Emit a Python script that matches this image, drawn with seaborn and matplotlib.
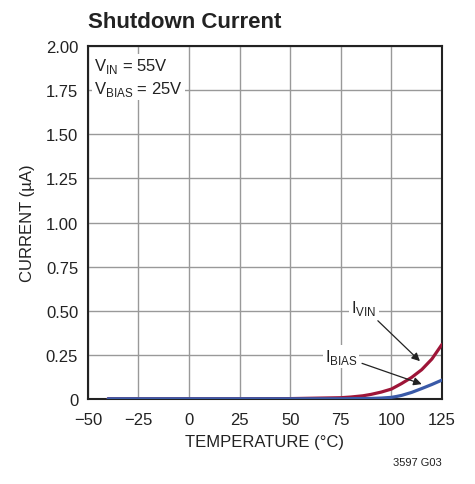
import numpy as np
import pandas as pd
import matplotlib
matplotlib.use('Agg')
import matplotlib.pyplot as plt
import seaborn as sns

# values
temp_vin = [-40, -25, 0, 25, 50, 75, 80, 86, 90, 95, 100, 105, 110, 115, 120, 125]
i_vin = [0.002, 0.002, 0.002, 0.002, 0.003, 0.008, 0.012, 0.019, 0.027, 0.04, 0.057, 0.088, 0.123, 0.167, 0.227, 0.31]
temp_bias = [-40, -25, 0, 25, 50, 75, 90, 95, 100, 102.5, 105, 110, 115, 120, 125]
i_bias = [0.002, 0.002, 0.002, 0.002, 0.002, 0.002, 0.004, 0.006, 0.01, 0.015, 0.021, 0.038, 0.06, 0.083, 0.108]

xticks = [-50, -25, 0, 25, 50, 75, 100, 125]
xticklabels = ['\u221250', '\u221225', '0', '25', '50', '75', '100', '125']
yticks = [0, 0.25, 0.5, 0.75, 1.0, 1.25, 1.5, 1.75, 2.0]
yticklabels = ['0', '0.25', '0.50', '0.75', '1.00', '1.25', '1.50', '1.75', '2.00']

red = '#9e1538'
blue = '#3a5aa8'
ink = '#222222'

sns.set_style('white')
plt.rcParams['font.family'] = ['Liberation Sans', 'DejaVu Sans']
plt.rcParams['mathtext.fontset'] = 'custom'
plt.rcParams['mathtext.rm'] = 'Liberation Sans'

fig = plt.figure(figsize=(4.75, 4.85), dpi=100)
ax = fig.add_axes([0.185, 0.175, 0.7455, 0.728])

df_vin = pd.DataFrame({'temp': temp_vin, 'cur': i_vin})
df_bias = pd.DataFrame({'temp': temp_bias, 'cur': i_bias})
sns.lineplot(data=df_vin, x='temp', y='cur', color=red, lw=2.3, ax=ax, zorder=3)
sns.lineplot(data=df_bias, x='temp', y='cur', color=blue, lw=2.3, ax=ax, zorder=4)

ax.set_xlim(-50, 125)
ax.set_ylim(0, 2.0)
ax.set_xticks(xticks)
ax.set_xticklabels(xticklabels, fontsize=12, color=ink)
ax.set_yticks(yticks)
ax.set_yticklabels(yticklabels, fontsize=12, color=ink)
ax.tick_params(axis='x', length=0, pad=9)
ax.tick_params(axis='y', length=0, pad=7)
ax.grid(True, color='#999999', lw=1)
for s in ax.spines.values():
    s.set_color(ink)
    s.set_linewidth(1.5)

ax.set_xlabel('TEMPERATURE (\u00b0C)', fontsize=12, labelpad=5, color=ink)
ax.set_ylabel('CURRENT (\u00b5A)', fontsize=12, labelpad=8, color=ink)

fig.text(0.185, 0.943, 'Shutdown Current', fontsize=16, fontweight='bold', color=ink)
fig.text(0.93, 0.04, '3597 G03', fontsize=8, ha='right', color=ink)

box = dict(facecolor='white', edgecolor='none', pad=1.5)
ax.text(-47, 1.89, r'V$_{\mathrm{IN}}$ = 55V', fontsize=12, va='center', bbox=box, color=ink)
ax.text(-47, 1.76, r'V$_{\mathrm{BIAS}}$ = 25V', fontsize=12, va='center', bbox=box, color=ink)

arrow = dict(arrowstyle='-|>', color=ink, lw=0.9, mutation_scale=12, shrinkA=2, shrinkB=0)
ax.annotate(r'I$_{\mathrm{VIN}}$', xy=(114.1, 0.215), xytext=(86.4, 0.52),
            fontsize=12, ha='center', va='center', bbox=box, arrowprops=arrow, zorder=5, color=ink)
ax.annotate(r'I$_{\mathrm{BIAS}}$', xy=(115, 0.085), xytext=(75.1, 0.244),
            fontsize=12, ha='center', va='center', bbox=box, arrowprops=arrow, zorder=5, color=ink)

fig.savefig('out.png', dpi=100)
